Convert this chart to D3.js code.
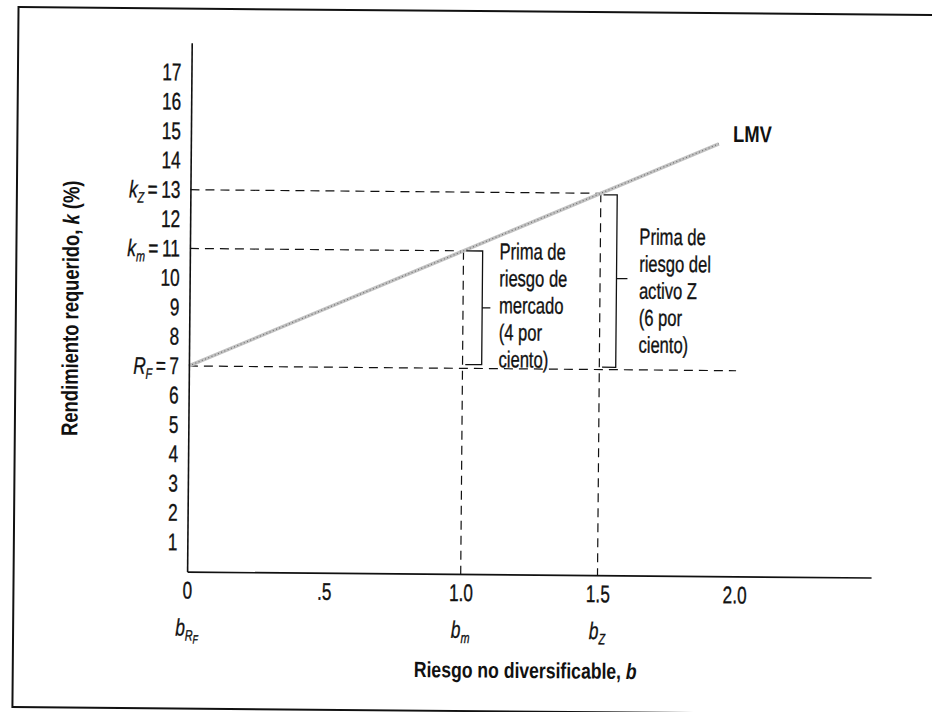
<!DOCTYPE html>
<html>
<head>
<meta charset="utf-8">
<script src="https://cdn.jsdelivr.net/npm/d3@7"></script>
<style>
  html, body { margin: 0; padding: 0; background: #fff; }
  svg { display: block; }
  text { font-family: 'Liberation Sans', Arial, sans-serif; fill: #111; }
  .heavy { stroke: #111; stroke-width: 0.35px; }
</style>
</head>
<body>
<svg id="chart" width="932" height="712"></svg>
<script>
// ---------- data ----------
const yTickValues = [1, 2, 3, 4, 5, 6, 7, 8, 9, 10, 11, 12, 13, 14, 15, 16, 17];
const xTickValues = [0, 0.5, 1.0, 1.5, 2.0];
const xTickLabels = ["0", ".5", "1.0", "1.5", "2.0"];

const riskFree = 7;      // R_F
const marketReturn = 11; // k_m
const assetZReturn = 13; // k_Z
const betaMarket = 1.0;  // b_m
const betaZ = 1.5;       // b_Z
const rfLineEndBeta = 2.0;

// Security market line (LMV) end points
const lmvBeta = [0, 1.93];
const lmvReturn = [7, 14.72];

// special y labels: [value, main, subscript]
const ySpecial = [[13, "k", "Z"], [11, "k", "m"], [7, "R", "F"]];

// beta labels under the axis: [beta, subscript, sub-subscript]
const betaLabels = [[0, "R", "F"], [1.0, "m", null], [1.5, "Z", null]];

// premium brackets (in data units)
const brackets = [
  {bIn: 1.01, bOut: 1.07, bTick: 1.10, kLo: 7.13, kHi: 11.0, kMid: 9.07},
  {bIn: 1.51, bOut: 1.56, bTick: 1.60, kLo: 7.08, kHi: 12.95, kMid: 10.1}
];
const marketNote = ["Prima de", "riesgo de", "mercado", "(4 por", "ciento)"];
const assetZNote = ["Prima de", "riesgo del", "activo Z", "(6 por", "ciento)"];

const lineLabel = "LMV";
const xTitle = "Riesgo no diversificable, ";
const yTitle = "Rendimiento requerido, ";

// ---------- drawing ----------
const SX = 0.72;  // condensing of regular type
const SXB = 0.8;  // condensing of bold titles
const svg = d3.select("#chart");
svg.append("rect").attr("width", 932).attr("height", 712).attr("fill", "#fff");
const g = svg.append("g").attr("transform", "rotate(0.5,466,356)");

// page frame
g.append("rect").attr("x", 15.5).attr("y", 11).attr("width", 1000).attr("height", 700)
  .attr("fill", "none").attr("stroke", "#111").attr("stroke-width", 2);

const x = d3.scaleLinear().domain([0, 2.5]).range([189, 873]);
const y = d3.scaleLinear().domain([0, 18]).range([574, 45.25]);

// condensed text helper
function ctext(parent, X, Y, size, sx) {
  return parent.append("text").attr("transform", `scale(${sx},1)`)
    .attr("x", X / sx).attr("y", Y).attr("font-size", size);
}

// dashed guides
const guides = [
  [[0, assetZReturn], [betaZ, assetZReturn]],
  [[0, marketReturn], [betaMarket, marketReturn]],
  [[0, riskFree], [rfLineEndBeta, riskFree]],
  [[betaMarket, marketReturn], [betaMarket, 0]],
  [[betaZ, assetZReturn], [betaZ, 0]]
];
g.append("g").selectAll("line").data(guides).join("line")
  .attr("x1", d => x(d[0][0])).attr("y1", d => y(d[0][1]))
  .attr("x2", d => x(d[1][0])).attr("y2", d => y(d[1][1]))
  .attr("stroke", "#111").attr("stroke-width", 1.2).attr("stroke-dasharray", "9,6");

// LMV line
const lmv = lmvBeta.map((b, i) => ({b: b, k: lmvReturn[i]}));
const line = d3.line().x(d => x(d.b)).y(d => y(d.k));
g.append("path").datum(lmv).attr("d", line)
  .attr("fill", "none").attr("stroke", "#c2c2c2").attr("stroke-width", 3.6);
g.append("path").datum(lmv).attr("d", line)
  .attr("fill", "none").attr("stroke", "#707070").attr("stroke-width", 1.2)
  .attr("stroke-dasharray", "1,2.5");
ctext(g, x(lmvBeta[1]) + 14, y(lmvReturn[1]) - 2, 23, SXB)
  .attr("font-weight", "bold").text(lineLabel);

// axes
const xAxis = d3.axisBottom(x).tickValues(xTickValues)
  .tickFormat((d, i) => xTickLabels[i]).tickSize(0).tickSizeOuter(0).tickPadding(10);
const gx = g.append("g").attr("transform", `translate(0,${y(0)})`).call(xAxis)
  .attr("font-family", null).attr("font-size", null);
gx.select(".domain").attr("stroke", "#111").attr("stroke-width", 1.6);
gx.selectAll("text").attr("font-size", 24).attr("fill", "#111").attr("class", "heavy")
  .attr("transform", `scale(${SX},1)`);

const yAxis = d3.axisLeft(y).tickValues(yTickValues).tickFormat(d => String(d))
  .tickSize(0).tickSizeOuter(0).tickPadding(10);
const gy = g.append("g").attr("transform", `translate(${x(0)},0)`).call(yAxis)
  .attr("font-family", null).attr("font-size", null);
gy.select(".domain").attr("stroke", "#111").attr("stroke-width", 1.6);
gy.selectAll("text").attr("font-size", 24).attr("fill", "#111").attr("class", "heavy")
  .attr("transform", `scale(${SX},1)`)
  .attr("x", function() { return +d3.select(this).attr("x") / SX; });

// special y labels with subscripts
gy.selectAll(".tick").each(function(d) {
  const sp = ySpecial.find(s => s[0] === d);
  if (!sp) return;
  const t = d3.select(this).select("text");
  t.text(null);
  t.append("tspan").attr("font-style", "italic").text(sp[1]);
  t.append("tspan").attr("font-style", "italic").attr("font-size", 15).attr("dy", 5).text(sp[2]);
  t.append("tspan").attr("dy", -5).text("\u2009=\u2009" + d);
});

// beta labels
betaLabels.forEach(bl => {
  const t = ctext(g, x(bl[0]), y(0) + 64, 24, SX).attr("text-anchor", "middle").attr("class", "heavy");
  t.append("tspan").attr("font-style", "italic").text("b");
  t.append("tspan").attr("font-style", "italic").attr("font-size", 15).attr("dy", 5).text(bl[1]);
  if (bl[2]) t.append("tspan").attr("font-style", "italic").attr("font-size", 12).attr("dy", 3).text(bl[2]);
});

// brackets
const bg = g.append("g").attr("fill", "none").attr("stroke", "#111").attr("stroke-width", 1.3);
brackets.forEach(br => {
  bg.append("path").attr("d",
    `M${x(br.bIn)},${y(br.kHi)}H${x(br.bOut)}V${y(br.kLo)}H${x(br.bIn)}` +
    `M${x(br.bOut)},${y(br.kMid)}H${x(br.bTick)}`);
});

// notes
function note(lines, bx, by) {
  const t = g.append("text").attr("font-size", 23).attr("class", "heavy")
    .attr("transform", `scale(${SX},1)`);
  lines.forEach((s, i) => {
    t.append("tspan").attr("x", bx / SX).attr("y", by + i * 27).text(s);
  });
}
note(marketNote, x(betaMarket) + 36, y(marketReturn) + 8);
note(assetZNote, x(betaZ) + 39, y(assetZReturn) + 51);

// axis titles
const xt = ctext(g, 528, y(0) + 103.5, 22, SXB)
  .attr("text-anchor", "middle").attr("font-weight", "bold");
xt.append("tspan").text(xTitle);
xt.append("tspan").attr("font-style", "italic").text("b");

const yt = g.append("text")
  .attr("transform", `translate(78,${(y(0) + y(18)) / 2 + 2}) rotate(-90) scale(${SXB},1)`)
  .attr("text-anchor", "middle").attr("font-size", 23).attr("font-weight", "bold");
yt.append("tspan").text(yTitle);
yt.append("tspan").attr("font-style", "italic").text("k");
yt.append("tspan").text(" (%)");
</script>
</body>
</html>
